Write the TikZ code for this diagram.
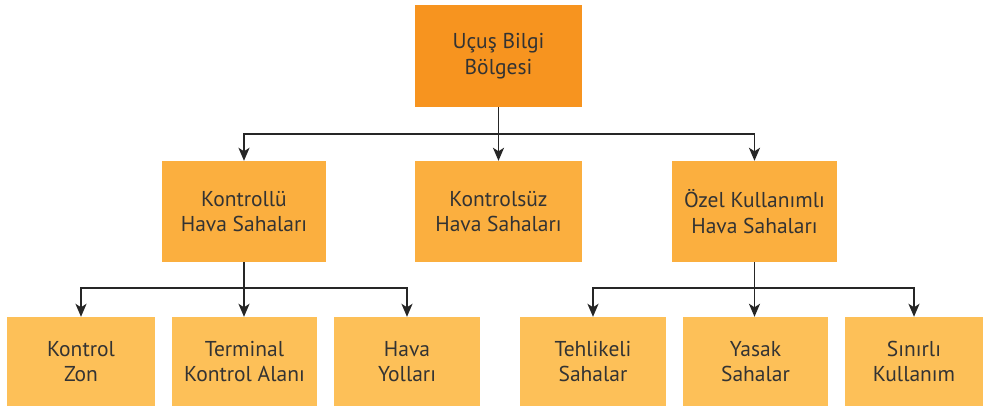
\documentclass[tikz,border=0pt]{standalone}
\usepackage{fontspec}
\setmainfont{PT Sans}
\usetikzlibrary{arrows.meta}
\definecolor{rootfill}{HTML}{F7941F}
\definecolor{midfill}{HTML}{FBAF3F}
\definecolor{leaffill}{HTML}{FDC058}
\definecolor{txt}{HTML}{333333}
\definecolor{wire}{HTML}{262626}
\begin{document}
\begin{tikzpicture}[x=1pt,y=-1pt,
  box/.style={draw=none,inner sep=0pt,align=center,text=txt,
    font=\fontsize{21.5}{25.5}\selectfont},
  rootbox/.style={box,fill=rootfill,minimum width=167pt,minimum height=102pt},
  midbox/.style={box,fill=midfill,minimum height=101pt},
  leafbox/.style={box,fill=leaffill,minimum height=89pt},
  link/.style={draw=wire,line width=1.9pt},
  arr/.style={link,-{Stealth[length=13pt,width=11pt,inset=3.5pt]}}]
\useasboundingbox (0,0) rectangle (985,409);
\fill[white] (0,0) rectangle (985,409);

% root
\node[rootbox] (root) at (498.5,56) {Uçuş Bilgi\\Bölgesi};

% second level
\node[midbox,minimum width=164pt] (ctl) at (244,211.5) {Kontrollü\\Hava Sahaları};
\node[midbox,minimum width=167pt] (unc) at (498.5,211.5) {Kontrolsüz\\Hava Sahaları};
\node[midbox,minimum width=165pt] (spc) at (754.5,211.5) {Özel Kullanımlı\\Hava Sahaları};

% third level
\node[leafbox,minimum width=148pt] (zon) at (81,361.5) {Kontrol\\Zon};
\node[leafbox,minimum width=145pt] (tma) at (244.5,361.5) {Terminal\\Kontrol Alanı};
\node[leafbox,minimum width=146pt] (awy) at (407,361.5) {Hava\\Yolları};
\node[leafbox,minimum width=146pt] (dng) at (593,361.5) {Tehlikeli\\Sahalar};
\node[leafbox,minimum width=145pt] (prh) at (755.5,361.5) {Yasak\\Sahalar};
\node[leafbox,minimum width=138pt] (rst) at (914,361.5) {Sınırlı\\Kullanım};

% bus levels
\coordinate (busA) at (0,134);
\coordinate (busB) at (0,288);

% root to second level
\draw[arr] (root.south) -- (unc.north);
\draw[arr] (root.south |- busA) -| (ctl.north);
\draw[arr] (root.south |- busA) -| (spc.north);

% controlled airspace children
\draw[arr] (ctl.south) -- (ctl.south |- tma.north);
\draw[arr] (ctl.south |- busB) -| (zon.north);
\draw[arr] (ctl.south |- busB) -| (awy.north);

% special use airspace children
\draw[arr] (spc.south) -- (spc.south |- prh.north);
\draw[arr] (spc.south |- busB) -| (dng.north);
\draw[arr] (spc.south |- busB) -| (rst.north);
\end{tikzpicture}
\end{document}
